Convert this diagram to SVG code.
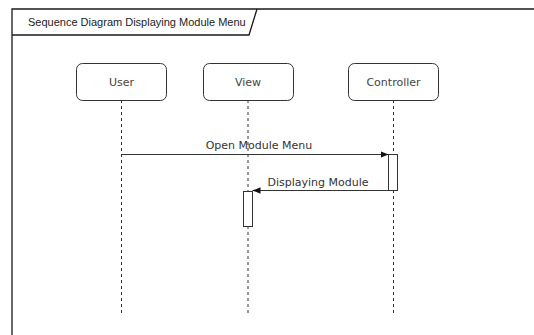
<svg xmlns="http://www.w3.org/2000/svg" width="534" height="335" viewBox="0 0 534 335">
  <style>
    .frame { fill: none; stroke: #1a1a1a; stroke-width: 1.3; }
    .actor rect { fill: #ffffff; stroke: #333333; stroke-width: 1; }
    .actor text { font-family: "DejaVu Sans", Verdana, sans-serif; font-size: 11px; fill: #444444; text-anchor: middle; }
    .life { stroke: #333333; stroke-width: 1; stroke-dasharray: 3 3; fill: none; }
    .act { fill: #ffffff; stroke: #333333; stroke-width: 1; }
    .msg { stroke: #333333; stroke-width: 1; fill: none; marker-end: url(#head); }
    .label { font-family: "DejaVu Sans", Verdana, sans-serif; font-size: 11px; fill: #333333; text-anchor: middle; }
    .title { font-family: "Liberation Sans", Arial, sans-serif; font-size: 11px; fill: #222222; }
  </style>
  <defs>
    <marker id="head" viewBox="0 0 10 10" refX="10" refY="5" markerWidth="8" markerHeight="8" markerUnits="userSpaceOnUse" orient="auto">
      <path d="M0,1 L10,5 L0,9 Z" fill="#111111"/>
    </marker>
  </defs>
  <rect width="534" height="335" fill="#ffffff"/>

  <!-- frame with title tab -->
  <g id="frame">
    <path class="frame" d="M12,340 L12,9 L540,9"/>
    <path class="frame" d="M12,35 L249,35 L257,9" stroke-width="1"/>
    <text class="title" x="28" y="26">Sequence Diagram Displaying Module Menu</text>
  </g>

  <!-- lifelines and activations -->
  <g id="user" class="actor">
    <line class="life" x1="121.5" y1="100" x2="121.5" y2="316"/>
    <rect x="76.5" y="63.5" width="90" height="37" rx="6"/>
    <text x="121.5" y="86">User</text>
  </g>
  <g id="view" class="actor">
    <line class="life" x1="248" y1="100" x2="248" y2="316"/>
    <rect x="203.5" y="63.5" width="90" height="37" rx="6"/>
    <text x="248" y="86">View</text>
    <rect class="act" x="243.5" y="191.5" width="9" height="35"/>
  </g>
  <g id="controller" class="actor">
    <line class="life" x1="393.5" y1="100" x2="393.5" y2="316"/>
    <rect x="348.5" y="63.5" width="90" height="37" rx="6"/>
    <text x="393.5" y="86">Controller</text>
    <rect class="act" x="388.5" y="154.5" width="9" height="36"/>
  </g>

  <!-- messages -->
  <g id="connectors">
    <line class="msg" x1="121.5" y1="154.5" x2="388.5" y2="154.5"/>
    <text class="label" x="259" y="149">Open Module Menu</text>
    <line class="msg" x1="388.5" y1="190.5" x2="252.5" y2="190.5"/>
    <text class="label" x="318" y="186">Displaying Module</text>
  </g>
</svg>
